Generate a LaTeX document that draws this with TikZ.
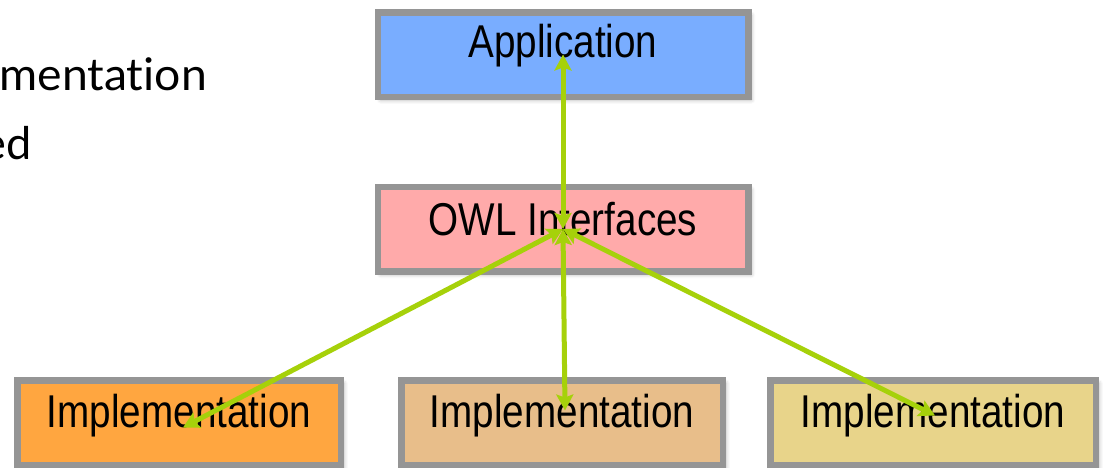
\documentclass[tikz,border=0pt]{standalone}
\usepackage{fontspec}
\setmainfont{Liberation Sans}
\newfontfamily\bodyfont{Lato}[Ligatures=NoCommon]
\usetikzlibrary{shadows.blur,arrows.meta}
\definecolor{boxedge}{HTML}{959595}
\definecolor{appblue}{HTML}{79ADFF}
\definecolor{owlpink}{HTML}{FFAAAA}
\definecolor{impA}{HTML}{FFA640}
\definecolor{impB}{HTML}{E8BE8A}
\definecolor{impC}{HTML}{E8D48A}
\definecolor{linkgreen}{HTML}{A6D10A}
\newcommand{\narrow}[1]{\scalebox{0.84}[1]{#1}}
\newcommand{\widen}[1]{\scalebox{1.03}[1]{#1}}
\tikzset{
  layer/.style={draw=boxedge, line width=6.5pt, minimum height=84.5pt, inner sep=0pt,
    blur shadow={shadow xshift=3pt, shadow yshift=-3pt, shadow blur radius=4pt, shadow opacity=35}},
  lbl/.style={anchor=base, inner sep=0pt, font=\fontsize{46}{50}\selectfont},
  bullet/.style={anchor=base east, inner sep=0pt, font=\bodyfont\fontsize{45}{54}\selectfont},
  linkarrow/.style={draw=linkgreen, line width=5pt,
    {Stealth[length=16pt,width=17pt,inset=3pt]}-{Stealth[length=16pt,width=17pt,inset=3pt]}}
}
\begin{document}
\begin{tikzpicture}[x=1pt,y=-1pt]
  \useasboundingbox (0,0) rectangle (1110,467);
  \clip (0,0) rectangle (1110,467);

  % slide text behind the diagram
  \node[bullet] (t1) at (207,90) {\widen{mentation}};
  \node[bullet] (t2) at (32,159) {ed};

  % layers
  \node[layer, fill=appblue, minimum width=370.5pt] (app) at (563,54.5) {};
  \node[layer, fill=owlpink, minimum width=370.5pt] (owl) at (563,229) {};
  \node[layer, fill=impA, minimum width=323.5pt] (impa) at (179,422.5) {};
  \node[layer, fill=impB, minimum width=321.5pt] (impb) at (562,422.5) {};
  \node[layer, fill=impC, minimum width=325.5pt] (impc) at (933,422.5) {};

  % layer names
  \node[lbl] (lapp) at ([yshift=-3pt]app.center) {\narrow{Application}};
  \node[lbl] (lowl) at ([yshift=-6pt]owl.center) {\narrow{OWL Interfaces}};
  \node[lbl] (limpa) at ([yshift=-4.5pt]impa.center) {\narrow{Implementation}};
  \node[lbl] (limpb) at ([yshift=-4.5pt]impb.center) {\narrow{Implementation}};
  \node[lbl] (limpc) at ([yshift=-4.5pt]impc.center) {\narrow{Implementation}};

  % connections
  \draw[linkarrow] (owl.center) -- (app.center);
  \draw[linkarrow] (owl.center) -- ([shift={(4pt,-5pt)}]impa.center);
  \draw[linkarrow] (owl.center) -- ([shift={(3pt,12pt)}]impb.center);
  \draw[linkarrow] (owl.center) -- ([shift={(2pt,7pt)}]impc.center);
\end{tikzpicture}
\end{document}
